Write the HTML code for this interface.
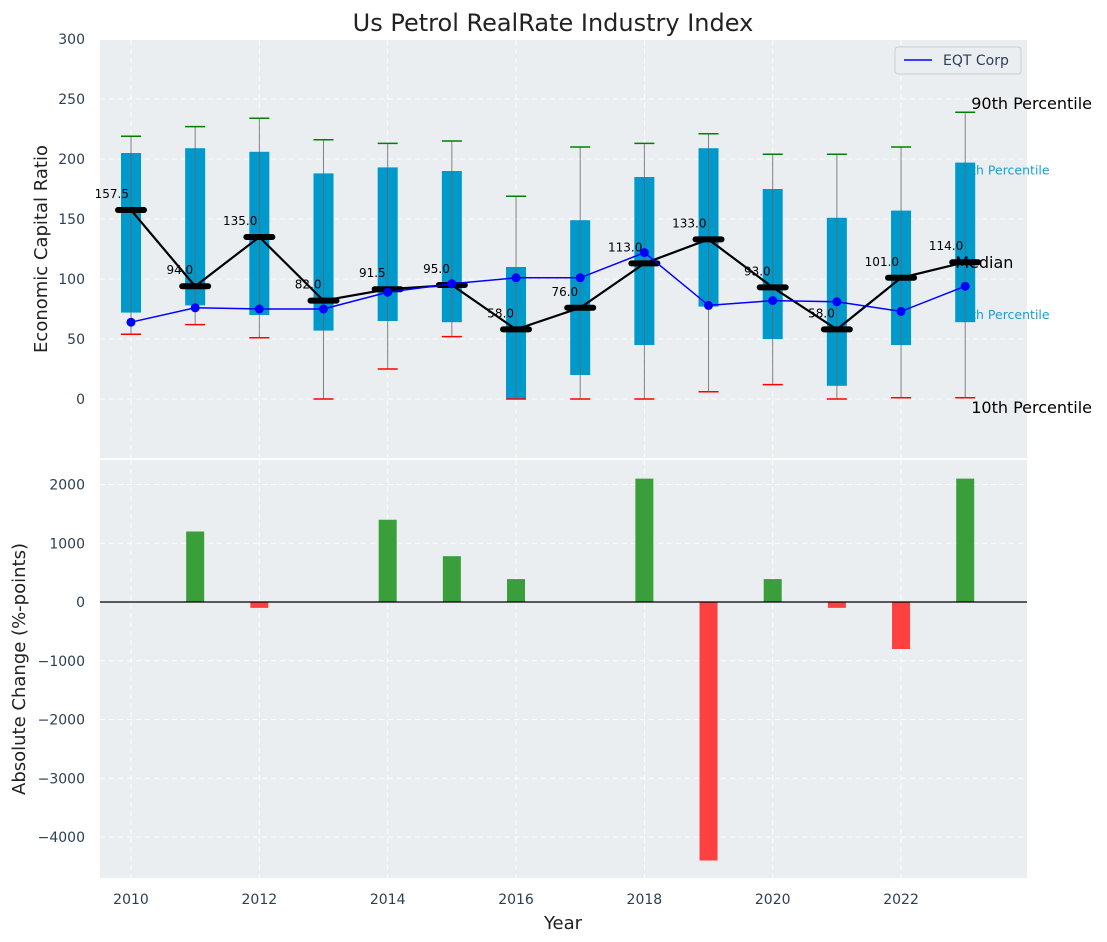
<!DOCTYPE html>
<html><head><meta charset="utf-8"><style>
body{margin:0;background:#fff;}
svg{display:block;font-family:"DejaVu Sans","Liberation Sans",sans-serif;}
</style></head><body>
<svg id="c" width="1107" height="942" xmlns="http://www.w3.org/2000/svg"></svg>
<script>
const years=[2010,2011,2012,2013,2014,2015,2016,2017,2018,2019,2020,2021,2022,2023];
const p10=[54,62,51,0,25,52,0,0,0,6,12,0,1,1];
const q25=[72,78,70,57,65,64,0,20,45,77,50,11,45,64];
const medians=[157.5,94,135,82,91.5,95,58,76,113,133,93,58,101,114];
const q75=[205,209,206,188,193,190,110,149,185,209,175,151,157,197];
const p90=[219,227,234,216,213,215,169,210,213,221,204,204,210,239];
const eqt=[64,76,75,75,89,96,101,101,122,78,82,81,73,94];
const changes=[0,1200,-100,0,1400,780,390,0,2100,-4400,390,-100,-800,2100];
const yTicksTop=[0,50,100,150,200,250,300];
const yTicksBot=[-4000,-3000,-2000,-1000,0,1000,2000];
const xTicks=[2010,2012,2014,2016,2018,2020,2022];

const L=100,R=1027,T1=40,B1=458,T2=460,B2=878;
const x=v=>131+(v-2010)*64.17;
const y1=v=>399-v*1.2;
const y2=v=>602-v*0.05875;
const svg=document.getElementById('c');
const NS='http://www.w3.org/2000/svg';
function el(tag,a,txt){const e=document.createElementNS(NS,tag);for(const k in a)e.setAttribute(k,a[k]);if(txt!==undefined)e.textContent=txt;svg.appendChild(e);return e;}

let p=el('rect',{x:L,y:T1,width:R-L,height:B1-T1,fill:'#eaeef0'});

p=el('rect',{x:L,y:T2,width:R-L,height:B2-T2,fill:'#eaeef0'});


const gs={stroke:'#fff','stroke-dasharray':'5,4','stroke-width':1,opacity:0.9};
xTicks.forEach(t=>{
  el('line',Object.assign({x1:x(t),x2:x(t),y1:T1,y2:B1},gs));
  el('line',Object.assign({x1:x(t),x2:x(t),y1:T2,y2:B2},gs));
  let tl=el('text',{x:x(t),y:904,'text-anchor':'middle','font-size':14,fill:'#2b3f55'},t);
  
});
yTicksTop.forEach(t=>{
  el('line',Object.assign({x1:L,x2:R,y1:y1(t),y2:y1(t)},gs));
  let tl=el('text',{x:85,y:y1(t)+5,'text-anchor':'end','font-size':14,fill:'#2b3f55'},t);
  
});
yTicksBot.forEach(t=>{
  el('line',Object.assign({x1:L,x2:R,y1:y2(t),y2:y2(t)},gs));
  let tl=el('text',{x:85,y:y2(t)+5,'text-anchor':'end','font-size':14,fill:'#2b3f55'},t.toString().replace('-','−'));
  
});

const lx=x(2023);
[['75th Percentile',y1(q75[13])+12,lx-10],['25th Percentile',y1(q25[13])-3,lx-10]].forEach(a=>{
  let t=el('text',{x:a[2],y:a[1],'font-size':12.5,fill:'#1a9fd0'},a[0]);
  
});

years.forEach((yr,i)=>{
  const cx=x(yr);
  let b=el('rect',{x:cx-10,y:y1(q75[i]),width:20,height:y1(q25[i])-y1(q75[i]),fill:'#0099cc'});
  
  el('line',{x1:cx,x2:cx,y1:y1(p90[i]),y2:y1(p10[i]),stroke:'#666','stroke-width':1,opacity:0.8});
  let w=el('line',{x1:cx-10,x2:cx+10,y1:y1(p90[i]),y2:y1(p90[i]),stroke:'#008000','stroke-width':1.5});
  
  w=el('line',{x1:cx-10,x2:cx+10,y1:y1(p10[i]),y2:y1(p10[i]),stroke:'#ff0000','stroke-width':1.5});
  
});
let ml=el('polyline',{points:years.map((yr,i)=>x(yr)+','+y1(medians[i])).join(' '),fill:'none',stroke:'#000','stroke-width':2.2});

years.forEach((yr,i)=>{
  const cx=x(yr);
  let m=el('line',{x1:cx-13,x2:cx+13,y1:y1(medians[i]),y2:y1(medians[i]),stroke:'#000','stroke-width':6,'stroke-linecap':'round'});
  
  let t=el('text',{x:cx-2,y:y1(medians[i])-12,'text-anchor':'end','font-size':12,fill:'#000'},medians[i].toFixed(1));
  
});
let eq=el('polyline',{points:years.map((yr,i)=>x(yr)+','+y1(eqt[i])).join(' '),fill:'none',stroke:'#0000ff','stroke-width':1.5});

years.forEach((yr,i)=>{
  let c=el('circle',{cx:x(yr),cy:y1(eqt[i]),r:4.5,fill:'#0000ff'});
  
});
[['90th Percentile',y1(p90[13])-3,lx+6],['Median',y1(medians[13])+6,lx-10],['10th Percentile',y1(p10[13])+15,lx+6]].forEach(a=>{
  let t=el('text',{x:a[2],y:a[1],'font-size':16,fill:'#000'},a[0]);
  
});

years.forEach((yr,i)=>{
  const v=changes[i];if(v===0)return;
  const top=Math.min(y2(v),y2(0)),h=Math.abs(y2(v)-y2(0));
  let b=el('rect',{x:x(yr)-9,y:top,width:18,height:h,fill:v>0?'#3a9e3a':'#ff4040'});
  
});
let zl=el('line',{x1:L,x2:R,y1:y2(0),y2:y2(0),stroke:'#000','stroke-width':1.2});


let lg=el('rect',{x:895,y:47,width:126,height:27,rx:3,fill:'#eaeef0',stroke:'#ccc'});

el('line',{x1:904,x2:932,y1:60,y2:60,stroke:'#0000ff','stroke-width':1.5});
let lt=el('text',{x:943,y:65,'font-size':14,fill:'#2b3f55'},'EQT Corp');


let tt=el('text',{x:553,y:31,'text-anchor':'middle','font-size':24,fill:'#222'},'Us Petrol RealRate Industry Index');

let xt=el('text',{x:563,y:929,'text-anchor':'middle','font-size':18,fill:'#222'},'Year');

let yt=el('text',{x:0,y:0,'text-anchor':'middle','font-size':18,fill:'#222',transform:'translate(47,249) rotate(-90)'},'Economic Capital Ratio');

yt=el('text',{x:0,y:0,'text-anchor':'middle','font-size':18,fill:'#222',transform:'translate(25,669) rotate(-90)'},'Absolute Change (%-points)');

</script>
</body></html>
